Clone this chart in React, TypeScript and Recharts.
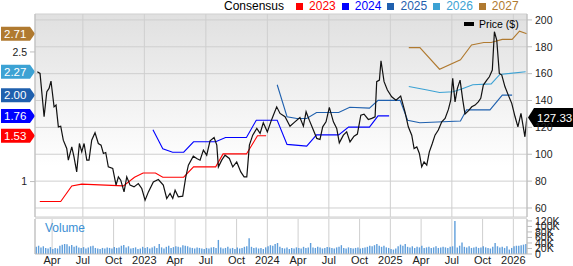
import React from "react";
import {
  ComposedChart,
  Line,
  Bar,
  XAxis,
  YAxis,
  CartesianGrid,
  ReferenceLine,
  ReferenceArea,
} from "recharts";

// time is in decimal years
const xDomain: [number, number] = [2022.111, 2026.111];
const quarterTicks = [
  2022.25, 2022.5, 2022.75, 2023, 2023.25, 2023.5, 2023.75, 2024, 2024.25, 2024.5,
  2024.75, 2025, 2025.25, 2025.5, 2025.75, 2026,
];
const quarterNames = ["", "Apr", "Jul", "Oct"];
const priceTicks = [60, 80, 100, 120, 140, 160, 180, 200];
const epsTicks = [1, 2.5];
const volumeTicks = [0, 20000, 40000, 60000, 80000, 100000, 120000];

// weekly close, $
const price: [number, number][] = [
  [2022.13, 161.4], [2022.152, 160.2], [2022.185, 127.9], [2022.207, 146.5], [2022.225, 149.0],
  [2022.241, 154.5], [2022.266, 135.3], [2022.282, 136.6], [2022.301, 120.4], [2022.32, 120.9],
  [2022.341, 110.5], [2022.369, 104.3], [2022.382, 95.6], [2022.41, 105.5], [2022.428, 98.1],
  [2022.45, 86.9], [2022.472, 108.0], [2022.491, 101.8], [2022.51, 108.0], [2022.532, 95.6],
  [2022.55, 95.6], [2022.572, 110.5], [2022.599, 116.0], [2022.626, 108.0], [2022.648, 106.8],
  [2022.667, 100.6], [2022.686, 101.3], [2022.707, 90.6], [2022.743, 89.4], [2022.77, 77.0],
  [2022.789, 83.2], [2022.808, 80.7], [2022.835, 72.0], [2022.857, 83.2], [2022.884, 77.0],
  [2022.916, 75.7], [2022.951, 78.2], [2022.979, 74.5], [2023.006, 65.8], [2023.033, 72.0],
  [2023.073, 79.4], [2023.114, 81.2], [2023.154, 77.0], [2023.182, 67.1], [2023.209, 70.8],
  [2023.231, 67.1], [2023.25, 73.2], [2023.276, 68.3], [2023.312, 68.8], [2023.337, 83.2],
  [2023.358, 91.9], [2023.398, 98.6], [2023.426, 96.9], [2023.453, 95.6], [2023.48, 103.1],
  [2023.507, 99.3], [2023.534, 110.0], [2023.567, 112.5], [2023.589, 106.8], [2023.602, 90.6],
  [2023.629, 95.6], [2023.656, 99.3], [2023.691, 96.9], [2023.719, 90.6], [2023.751, 94.3],
  [2023.784, 86.9], [2023.811, 83.2], [2023.833, 83.2], [2023.854, 106.8], [2023.881, 114.2],
  [2023.914, 119.2], [2023.941, 115.5], [2023.967, 123.4], [2024.0, 116.7], [2024.028, 124.1],
  [2024.049, 129.1], [2024.076, 135.3], [2024.103, 130.4], [2024.144, 127.9], [2024.184, 120.9],
  [2024.224, 124.1], [2024.265, 127.4], [2024.293, 120.9], [2024.315, 131.6], [2024.341, 125.4],
  [2024.369, 119.2], [2024.402, 111.8], [2024.428, 111.0], [2024.45, 120.4], [2024.477, 124.1],
  [2024.504, 134.9], [2024.537, 124.1], [2024.564, 119.2], [2024.585, 108.5], [2024.618, 114.2],
  [2024.645, 116.7], [2024.672, 109.2], [2024.705, 113.5], [2024.732, 115.0], [2024.76, 129.1],
  [2024.786, 129.9], [2024.821, 125.9], [2024.849, 126.7], [2024.876, 127.9], [2024.889, 154.0],
  [2024.911, 155.2], [2024.924, 169.6], [2024.949, 154.0], [2024.976, 147.8], [2025.011, 142.8],
  [2025.046, 140.3], [2025.084, 143.3], [2025.119, 131.6], [2025.146, 120.4], [2025.174, 114.2],
  [2025.193, 104.3], [2025.215, 105.5], [2025.236, 100.6], [2025.255, 90.6], [2025.274, 94.3],
  [2025.296, 91.9], [2025.317, 101.8], [2025.341, 108.0], [2025.363, 114.2], [2025.39, 118.0],
  [2025.418, 124.1], [2025.445, 126.7], [2025.472, 133.4], [2025.491, 140.3], [2025.507, 156.5],
  [2025.526, 139.0], [2025.545, 149.0], [2025.567, 155.2], [2025.589, 140.3], [2025.607, 129.9],
  [2025.634, 132.3], [2025.662, 135.3], [2025.689, 136.6], [2025.715, 139.0], [2025.735, 141.6],
  [2025.756, 151.5], [2025.784, 155.2], [2025.805, 157.7], [2025.829, 162.7], [2025.846, 191.2],
  [2025.865, 185.0], [2025.886, 160.2], [2025.906, 158.9], [2025.932, 150.2], [2025.959, 144.0],
  [2025.987, 137.9], [2026.014, 127.9], [2026.037, 120.4], [2026.062, 130.4], [2026.094, 113.0],
  [2026.11, 127.33],
];
const lastPrice = 127.33;

// EPS consensus by fiscal year
const cons2023: [number, number][] = [
  [2022.15, 0.77], [2022.32, 0.77], [2022.41, 0.95], [2022.49, 0.97], [2022.83, 0.95],
  [2022.92, 1.05], [2022.99, 1.1], [2023.09, 1.1], [2023.15, 1.05], [2023.32, 1.05],
  [2023.4, 1.17], [2023.58, 1.17], [2023.64, 1.32], [2023.83, 1.32], [2023.92, 1.53], [2023.99, 1.53],
];
const cons2024: [number, number][] = [
  [2023.07, 1.6], [2023.15, 1.38], [2023.23, 1.34], [2023.32, 1.34], [2023.4, 1.46],
  [2023.58, 1.46], [2023.66, 1.51], [2023.83, 1.51], [2023.91, 1.71], [2024.08, 1.71],
  [2024.16, 1.43], [2024.32, 1.41], [2024.4, 1.54], [2024.58, 1.54], [2024.66, 1.63],
  [2024.83, 1.63], [2024.9, 1.76], [2024.99, 1.76],
];
const cons2025: [number, number][] = [
  [2024.08, 2.12], [2024.16, 1.75], [2024.24, 1.73], [2024.32, 1.73], [2024.4, 1.8],
  [2024.58, 1.8], [2024.67, 1.86], [2024.83, 1.85], [2024.9, 1.94], [2025.08, 1.94],
  [2025.14, 1.71], [2025.24, 1.68], [2025.57, 1.7], [2025.62, 1.83], [2025.81, 1.83],
  [2025.91, 2.0], [2025.99, 2.0],
];
const cons2026: [number, number][] = [
  [2025.15, 2.1], [2025.3, 2.06], [2025.4, 2.03], [2025.51, 2.04], [2025.58, 2.07],
  [2025.67, 2.12], [2025.82, 2.13], [2025.89, 2.24], [2026.1, 2.27],
];
const cons2027: [number, number][] = [
  [2025.15, 2.55], [2025.24, 2.55], [2025.4, 2.3], [2025.57, 2.41], [2025.66, 2.58],
  [2025.76, 2.61], [2025.82, 2.61], [2025.91, 2.645], [2025.99, 2.645], [2026.05, 2.74],
  [2026.11, 2.71],
];

const years = ["2023", "2024", "2025", "2026", "2027"];
const yearColors = ["#ff0000", "#0000ff", "#1f60ae", "#3ca2d4", "#b07a30"];
const consensus = [cons2023, cons2024, cons2025, cons2026, cons2027];

// weekly volume in thousands, first week starts mid Feb 2022
const volStart = 2022.125;
const vol2022 = [
  26, 30, 24, 28, 22, 20, 25, 18, 22, 20, 30, 34, 36, 35, 28, 33, 26, 30, 24, 22, 25, 20, 24,
  28, 30, 22, 20, 18, 22, 20, 24, 22, 20, 25, 22, 24, 30, 33, 24, 28, 20, 22, 24, 18, 20, 26,
];
const vol2023 = [
  22, 25, 20, 24, 28, 22, 36, 24, 20, 26, 30, 22, 25, 28, 26, 24, 32, 30, 28, 24, 22, 20, 24, 22,
  20, 18, 22, 20, 24, 25, 22, 51, 24, 20, 22, 26, 20, 22, 18, 24, 20, 22, 26, 28, 57, 26, 22, 24,
  20, 22, 18, 24,
];
const vol2024 = [
  28, 32, 30, 36, 40, 26, 22, 20, 24, 18, 22, 20, 24, 22, 20, 26, 22, 24, 40, 24, 22, 26, 24, 20,
  22, 25, 24, 22, 20, 24, 26, 32, 22, 20, 24, 22, 20, 22, 24, 20, 22, 24, 26, 30, 28, 32, 36, 30,
  26, 30, 24, 22,
];
const vol2025 = [
  18, 16, 20, 28, 34, 30, 36, 26, 24, 28, 22, 26, 24, 30, 22, 24, 26, 22, 24, 28, 22, 24, 26, 24,
  22, 26, 28, 120, 24, 30, 42, 26, 24, 28, 22, 24, 26, 22, 24, 28, 24, 22, 20, 26, 40, 28, 24, 26,
  22, 28, 16, 22,
];
const vol2026 = [28, 30, 30, 32, 34, 36];

const font = "'Liberation Sans', Arial, sans-serif";
const gridColor = "#cfcfcf";
const borderColor = "#bdbdbd";
const tickStyle = { fontSize: 10.5, fill: "#222", fontFamily: font };

const formatQuarter = (t: number) => {
  const q = Math.round((t - Math.floor(t + 0.001)) * 4);
  return q === 0 ? String(Math.round(t)) : quarterNames[q];
};

function EpsBadge(props: any) {
  const { viewBox, text, color } = props;
  const y = viewBox.y;
  const tip = viewBox.x;
  return (
    <g>
      <path
        d={`M1,${y - 7} L${tip - 5},${y - 7} L${tip},${y} L${tip - 5},${y + 7} L1,${y + 7} Z`}
        fill={color}
      />
      <text x={4} y={y + 4} fill="#fff" fontSize={11.5} fontFamily={font}>
        {text}
      </text>
    </g>
  );
}

function PriceTag(props: any) {
  const { viewBox, text } = props;
  const y = viewBox.y;
  const tip = viewBox.x + viewBox.width + 1;
  return (
    <g>
      <path
        d={`M${tip},${y} L${tip + 6},${y - 9.5} L573,${y - 9.5} L573,${y + 9.5} L${tip + 6},${y + 9.5} Z`}
        fill="#000"
      />
      <text x={tip + 9} y={y + 4} fill="#fff" fontSize={11.5} fontFamily={font}>
        {text}
      </text>
    </g>
  );
}

export default function App() {
  const priceData = price.map(([t, p]) => ({ t, p }));
  const volumes = [...vol2022, ...vol2023, ...vol2024, ...vol2025, ...vol2026];
  const volumeData = volumes.map((v, i) => ({ t: volStart + i / 52, v: v * 1000 }));
  const lastEps = consensus.map((c) => c[c.length - 1][1]);

  return (
    <div style={{ position: "absolute", left: 0, top: 0, width: 573, height: 266, background: "#fff", fontFamily: font }}>
      <div style={{ position: "absolute", left: 224, top: 0, display: "flex", alignItems: "center", fontSize: 12, lineHeight: "13px" }}>
        <span style={{ color: "#000", marginRight: 12 }}>Consensus</span>
        {years.map((y, i) => (
          <span key={y} style={{ display: "flex", alignItems: "center", marginRight: 6, color: yearColors[i] }}>
            <span style={{ width: 7, height: 7, background: yearColors[i], marginRight: 6, display: "inline-block" }} />
            {y}
          </span>
        ))}
      </div>

      <div style={{ position: "absolute", left: 0, top: 0 }}>
        <ComposedChart width={573} height={217} margin={{ top: 14, right: 0, bottom: 0, left: 0 }}>
          <defs>
            <linearGradient id="plotBg" x1="0" y1="0" x2="0" y2="1">
              <stop offset="0%" stopColor="#e0e0e0" />
              <stop offset="75%" stopColor="#ffffff" />
            </linearGradient>
          </defs>
          <CartesianGrid yAxisId="price" stroke={gridColor} fill="url(#plotBg)" fillOpacity={1} />
          <XAxis type="number" dataKey="t" domain={xDomain} ticks={quarterTicks} allowDataOverflow hide />
          <YAxis
            yAxisId="eps"
            orientation="left"
            width={35}
            domain={[0.59, 2.939]}
            ticks={epsTicks}
            allowDataOverflow
            tick={tickStyle}
            tickSize={5}
            tickMargin={3}
            stroke={borderColor}
          />
          <YAxis
            yAxisId="price"
            orientation="right"
            width={46}
            domain={[53.3, 204.4]}
            ticks={priceTicks}
            allowDataOverflow
            tick={tickStyle}
            tickSize={5}
            tickMargin={3}
            stroke={borderColor}
          />
          <ReferenceArea yAxisId="price" fill="none" stroke={borderColor} />
          {consensus.map((c, i) => (
            <Line
              key={years[i]}
              yAxisId="eps"
              data={c.map(([t, eps]) => ({ t, eps }))}
              dataKey="eps"
              stroke={yearColors[i]}
              strokeWidth={1.1}
              dot={false}
              isAnimationActive={false}
            />
          ))}
          <Line
            yAxisId="price"
            data={priceData}
            dataKey="p"
            stroke="#111"
            strokeWidth={1.2}
            dot={false}
            isAnimationActive={false}
          />
          {lastEps.map((e, i) => (
            <ReferenceLine
              key={"b" + years[i]}
              yAxisId="eps"
              y={e}
              stroke="none"
              label={(p: any) => <EpsBadge {...p} text={e.toFixed(2)} color={yearColors[i]} />}
            />
          ))}
          <ReferenceLine
            yAxisId="price"
            y={lastPrice}
            stroke="none"
            label={(p: any) => <PriceTag {...p} text={lastPrice.toFixed(2)} />}
          />
        </ComposedChart>
      </div>

      <div style={{ position: "absolute", left: 464, top: 22, width: 10, height: 4, background: "#000" }} />
      <div style={{ position: "absolute", left: 479, top: 19, fontSize: 10.5, lineHeight: "11px", color: "#000" }}>
        Price ($)
      </div>

      <div style={{ position: "absolute", left: 35, top: 217, width: 492, height: 2, background: "#dedede" }} />

      <div style={{ position: "absolute", left: 0, top: 209 }}>
        <ComposedChart width={573} height={57} data={volumeData} margin={{ top: 10, right: 0, bottom: 0, left: 0 }}>
          <CartesianGrid stroke={gridColor} horizontal={false} />
          <XAxis
            type="number"
            dataKey="t"
            domain={xDomain}
            ticks={quarterTicks}
            allowDataOverflow
            height={12}
            tickFormatter={formatQuarter}
            tick={{ ...tickStyle, fontSize: 11 }}
            tickLine={false}
            tickSize={0}
            tickMargin={2}
            stroke={borderColor}
            interval={0}
          />
          <YAxis yAxisId="l" orientation="left" width={35} tick={false} stroke={borderColor} />
          <YAxis
            yAxisId="vol"
            orientation="right"
            width={46}
            domain={[0, 127000]}
            ticks={volumeTicks}
            allowDataOverflow
            interval={0}
            tickFormatter={(v: number) => (v === 0 ? "0" : `${v / 1000}K`)}
            tick={tickStyle}
            tickSize={5}
            tickMargin={3}
            stroke={borderColor}
          />
          <Bar yAxisId="vol" dataKey="v" fill="#5f9edb" barSize={1.4} isAnimationActive={false} />
        </ComposedChart>
      </div>

      <div style={{ position: "absolute", left: 45, top: 222, fontSize: 12, color: "#3b8fd4", lineHeight: "13px" }}>
        Volume
      </div>
    </div>
  );
}
